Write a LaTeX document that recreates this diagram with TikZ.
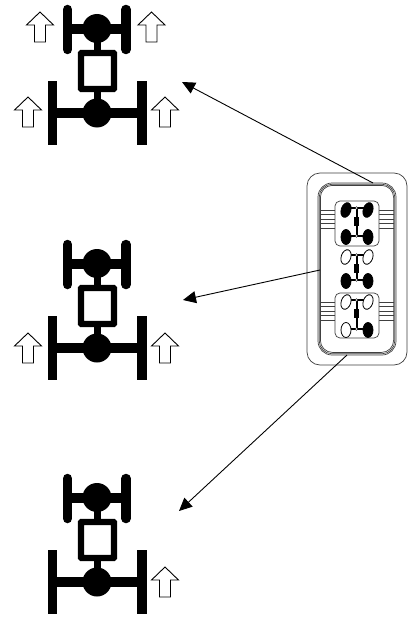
\documentclass[tikz,border=0pt]{standalone}
\usetikzlibrary{arrows.meta}
\tikzset{
  x=1pt,y=-1pt,
  wheelbar/.style={line width=9.5pt,line cap=round,black},
  rearbar/.style={line width=9.5pt,black},
  axlebar/.style={line width=10pt,black},
  shaftbar/.style={line width=7pt,black},
  hubdisc/.style={fill=black,draw=none},
  bodybox/.style={draw=black,fill=white,line width=6.2pt,rounded corners=0.6pt},
  uparrow/.style={draw=black,fill=white,line width=0.9pt,miter limit=10},
  callout/.style={draw=black,line width=0.9pt,-{Triangle[length=13pt,width=12pt]}},
  panelline/.style={draw=black!75,line width=0.7pt},
  minibar/.style={black,line width=2pt},
  miniwheel/.style={draw=black,line width=0.8pt}
}
% chassis at vertical offset #1
\newcommand{\bigchassis}[1]{%
  \begin{scope}[yshift=-#1pt]
    \draw[shaftbar] (97,38) -- (97,100);
    \draw[axlebar] (67,29) -- (126,29);
    \draw[axlebar] (52,112.5) -- (142,112.5);
    \draw[wheelbar] (67.5,9.5) -- (67.5,49.5);
    \draw[wheelbar] (126,9.5) -- (126,49.5);
    \draw[rearbar] (52.5,81) -- (52.5,145);
    \draw[rearbar] (142,81) -- (142,145);
    \fill[hubdisc] (97,28.5) circle[radius=14.5];
    \fill[hubdisc] (97,113) circle[radius=14.5];
    \draw[bodybox] (81,53) rectangle (114,89);
  \end{scope}}
% outline arrow: tip x #1, tip y #2
\newcommand{\hollowup}[2]{%
  \draw[uparrow] (#1,#2) -- (#1+13.5,#2+13) -- (#1+5.5,#2+13) -- (#1+5.5,#2+30) -- (#1-5.5,#2+30) -- (#1-5.5,#2+13) -- (#1-13.5,#2+13) -- cycle;}
% small chassis: y of front axle #1, y of rear axle #2, four wheel fills
\newcommand{\minichassis}[6]{%
  \draw[line width=2pt,black] (356.5,#1) -- (356.5,#2);
  \draw[line width=5.5pt,black] (356.5,#1+9) -- (356.5,#1+18);
  \draw[minibar] (346,#1) -- (368,#1);
  \draw[minibar] (346,#2) -- (368,#2);
  \draw[miniwheel,fill=#3,rotate around={-18:(346,#1+2)}] (346,#1+2) ellipse[x radius=4.8,y radius=7.5];
  \draw[miniwheel,fill=#4,rotate around={-18:(368,#1+2)}] (368,#1+2) ellipse[x radius=4.8,y radius=7.5];
  \draw[miniwheel,fill=#5] (346,#2+1) ellipse[x radius=5,y radius=7.5];
  \draw[miniwheel,fill=#6] (368,#2+1) ellipse[x radius=5,y radius=7.5];
  \fill[white,draw=black,line width=0.4pt] (356.5,#1) circle[radius=1.3];
  \fill[white,draw=black,line width=0.4pt] (356.5,#2) circle[radius=1.3];}
\begin{document}
\begin{tikzpicture}
\useasboundingbox (0,0) rectangle (412,618);
\fill[white] (0,0) rectangle (412,618);
% chassis
\bigchassis{0}
\bigchassis{235}
\bigchassis{469}
% hollow arrows
\hollowup{40}{12}
\hollowup{151.5}{12}
\hollowup{28}{97}
\hollowup{165}{97}
\hollowup{28}{333}
\hollowup{165}{333}
\hollowup{165}{567}
% panel
\draw[panelline,rounded corners=13pt] (307,173) rectangle (407,365);
\draw[panelline,rounded corners=14pt] (318,183) rectangle (396,355);
\draw[panelline,rounded corners=13pt] (319.2,184.2) rectangle (394.8,353.8);
\draw[panelline,rounded corners=12pt] (320.4,185.4) rectangle (393.6,352.4);
\foreach \yy in {210,214.5,219,223.5,228}{
  \draw[panelline] (320.4,\yy) -- (393.6,\yy);
  \draw[panelline] (320.4,\yy+92) -- (393.6,\yy+92);}
\draw[panelline,fill=white,rounded corners=5pt] (335,201) rectangle (379,246);
\draw[panelline,fill=white,rounded corners=5pt] (335,293) rectangle (379,338);
\minichassis{208}{236}{black}{black}{black}{black}
\minichassis{255}{280}{white}{white}{black}{black}
\minichassis{300}{329}{white}{white}{white}{black}
% callouts
\coordinate (topstart) at (373,183);
\coordinate (toptip) at (182,82);
\coordinate (midstart) at (320,270);
\coordinate (midtip) at (183,300);
\coordinate (lowstart) at (347,355);
\coordinate (lowtip) at (179,511);
\draw[callout] (topstart) -- (toptip);
\draw[callout] (midstart) -- (midtip);
\draw[callout] (lowstart) -- (lowtip);
\end{tikzpicture}
\end{document}
